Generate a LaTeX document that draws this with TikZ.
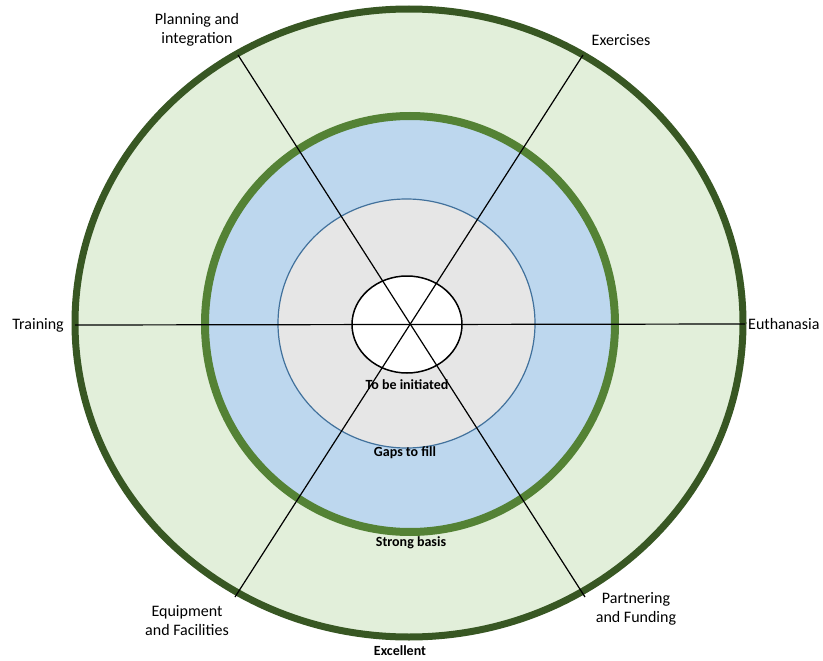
\documentclass[tikz,border=0pt]{standalone}
\usepackage{fontspec}
\setmainfont{Carlito}
\usepackage{xcolor}
\usetikzlibrary{calc}
\definecolor{ringdark}{HTML}{385723}
\definecolor{ringmid}{HTML}{548235}
\definecolor{fillgreen}{HTML}{E2EFDA}
\definecolor{fillblue}{HTML}{BDD7EE}
\definecolor{edgeblue}{HTML}{41719C}
\definecolor{fillgray}{HTML}{E6E6E6}

\begin{document}
\begin{tikzpicture}[x=1pt,y=-1pt,
  spoke/.style={line width=1.2pt, black},
  lbl/.style={font=\fontsize{16}{19}\selectfont, inner sep=1pt, align=center},
  lvl/.style={font=\fontsize{14}{16}\selectfont\bfseries, inner sep=1pt}]
  \useasboundingbox (0,0) rectangle (823,661);
  % Rings
  \draw[line width=7pt, ringdark, fill=fillgreen] (409,323) ellipse (334pt and 314pt);
  \draw[line width=8pt, ringmid, fill=fillblue] (410,324) ellipse (205pt and 208pt);
  \draw[line width=1.2pt, edgeblue, fill=fillgray] (406.5,323.5) ellipse (128.5pt and 124.5pt);
  \draw[line width=1.5pt, black, fill=white] (407,324.5) ellipse (55pt and 48.5pt);
  %
  % Spoke ends
  \coordinate (tl) at (75,325);
  \coordinate (tr) at (745,324);
  \coordinate (pl) at (238,55);
  \coordinate (pr) at (585,597);
  \coordinate (el) at (583,55);
  \coordinate (er) at (235,597);
  \draw[spoke] (tl) -- (tr);
  \draw[spoke] (pl) -- (pr);
  \draw[spoke] (el) -- (er);
  %
  % Axis labels
  \node[lbl] (planning) at (197,30) {Planning and\\integration};
  \node[lbl] (exercises) at (621,40) {Exercises};
  \node[lbl, anchor=east] (training) at ($(tl)+(-10,0)$) {Training};
  \node[lbl, anchor=west] (euthanasia) at ($(tr)+(2,0)$) {Euthanasia};
  \node[lbl] (equipment) at (187,620.5) {Equipment\\and Facilities};
  \node[lbl] (partnering) at (636,609) {Partnering\\and Funding};
  %
  % Level labels
  \node[lvl] (initiated) at (407,385) {To be initiated};
  \node[lvl] (gaps) at (405,453) {Gaps to fill};
  \node[lvl] (strong) at (411,543) {Strong basis};
  \node[lvl] (excellent) at (400,651) {Excellent};
\end{tikzpicture}
\end{document}
